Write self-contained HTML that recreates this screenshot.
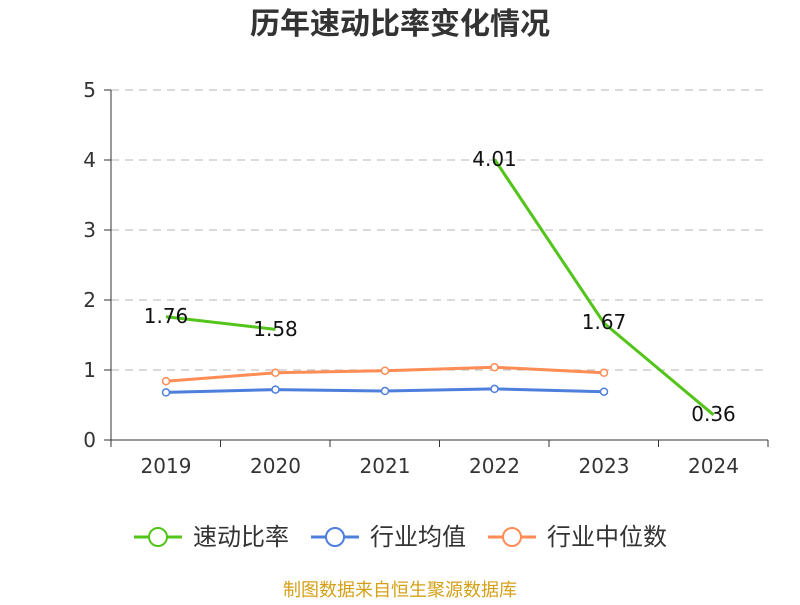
<!DOCTYPE html>
<html><head><meta charset="utf-8"><style>
body{margin:0;background:#fff;}
svg text{font-family:"DejaVu Sans","Noto Sans CJK SC",sans-serif;}
.cjk{font-family:"Liberation Sans","Noto Sans CJK SC",sans-serif !important;}
</style></head><body>
<svg width="800" height="600" xmlns="http://www.w3.org/2000/svg">
<rect width="800" height="600" fill="#fff"/>
<text class="cjk" x="400" y="34" text-anchor="middle" font-size="30" font-weight="bold" fill="#333">历年速动比率变化情况</text>
<g stroke="#c4c4c4" stroke-dasharray="8,6" stroke-width="1.2">
<line x1="111" y1="90" x2="768" y2="90"/><line x1="111" y1="160" x2="768" y2="160"/>
<line x1="111" y1="230" x2="768" y2="230"/><line x1="111" y1="300" x2="768" y2="300"/>
<line x1="111" y1="370" x2="768" y2="370"/>
</g>
<g stroke="#333" stroke-width="1">
<line x1="111" y1="90" x2="111" y2="440"/><line x1="111" y1="440" x2="768" y2="440"/>
<line x1="104" y1="90" x2="111" y2="90"/><line x1="104" y1="160" x2="111" y2="160"/><line x1="104" y1="230" x2="111" y2="230"/><line x1="104" y1="300" x2="111" y2="300"/><line x1="104" y1="370" x2="111" y2="370"/><line x1="104" y1="440" x2="111" y2="440"/>
<line x1="111" y1="440" x2="111" y2="447"/><line x1="220.5" y1="440" x2="220.5" y2="447"/><line x1="330" y1="440" x2="330" y2="447"/><line x1="439.5" y1="440" x2="439.5" y2="447"/><line x1="549" y1="440" x2="549" y2="447"/><line x1="658.5" y1="440" x2="658.5" y2="447"/><line x1="768" y1="440" x2="768" y2="447"/>
</g>
<g font-size="20" fill="#333" text-anchor="end">
<text x="96" y="97">5</text><text x="96" y="167">4</text><text x="96" y="237">3</text><text x="96" y="307">2</text><text x="96" y="377">1</text><text x="96" y="447">0</text>
</g>
<g font-size="20" fill="#333" text-anchor="middle">
<text x="166" y="473">2019</text><text x="275.5" y="473">2020</text><text x="385" y="473">2021</text><text x="494.5" y="473">2022</text><text x="604" y="473">2023</text><text x="713.5" y="473">2024</text>
</g>
<polyline points="166,392.4 275.5,389.6 385,391 494.5,388.9 604,391.7" fill="none" stroke="#4e7fdc" stroke-width="3"/>
<g fill="#fff" stroke="#4e7fdc" stroke-width="1.5">
<circle cx="166" cy="392.4" r="3.5"/><circle cx="275.5" cy="389.6" r="3.5"/><circle cx="385" cy="391" r="3.5"/><circle cx="494.5" cy="388.9" r="3.5"/><circle cx="604" cy="391.7" r="3.5"/></g>
<polyline points="166,381.2 275.5,372.8 385,370.7 494.5,367.2 604,372.8" fill="none" stroke="#ff8c55" stroke-width="3"/>
<g fill="#fff" stroke="#ff8c55" stroke-width="1.5">
<circle cx="166" cy="381.2" r="3.5"/><circle cx="275.5" cy="372.8" r="3.5"/><circle cx="385" cy="370.7" r="3.5"/><circle cx="494.5" cy="367.2" r="3.5"/><circle cx="604" cy="372.8" r="3.5"/></g>
<polyline points="166,316.8 275.5,329.4" fill="none" stroke="#52c41a" stroke-width="3"/>
<polyline points="494.5,159.3 604,323.1 713.5,414.8" fill="none" stroke="#52c41a" stroke-width="3"/>
<g font-size="20" fill="#111" text-anchor="middle">
<text x="166" y="323">1.76</text><text x="275.5" y="336">1.58</text><text x="494.5" y="166">4.01</text><text x="604" y="329">1.67</text><text x="713.5" y="421">0.36</text>
</g>
<g fill="#333">
<line x1="134" y1="537" x2="182" y2="537" stroke="#52c41a" stroke-width="3"/><circle cx="158" cy="537" r="9" fill="#fff" stroke="#52c41a" stroke-width="2"/>
<text class="cjk" font-size="24" x="193" y="545">速动比率</text>
<line x1="311" y1="537" x2="359" y2="537" stroke="#4e7fdc" stroke-width="3"/><circle cx="335" cy="537" r="9" fill="#fff" stroke="#4e7fdc" stroke-width="2"/>
<text class="cjk" font-size="24" x="370" y="545">行业均值</text>
<line x1="488" y1="537" x2="536" y2="537" stroke="#ff8c55" stroke-width="3"/><circle cx="512" cy="537" r="9" fill="#fff" stroke="#ff8c55" stroke-width="2"/>
<text class="cjk" font-size="24" x="547" y="545">行业中位数</text>
</g>
<text class="cjk" x="400" y="596" text-anchor="middle" font-size="18" fill="#d4a017">制图数据来自恒生聚源数据库</text>
</svg>
</body></html>
